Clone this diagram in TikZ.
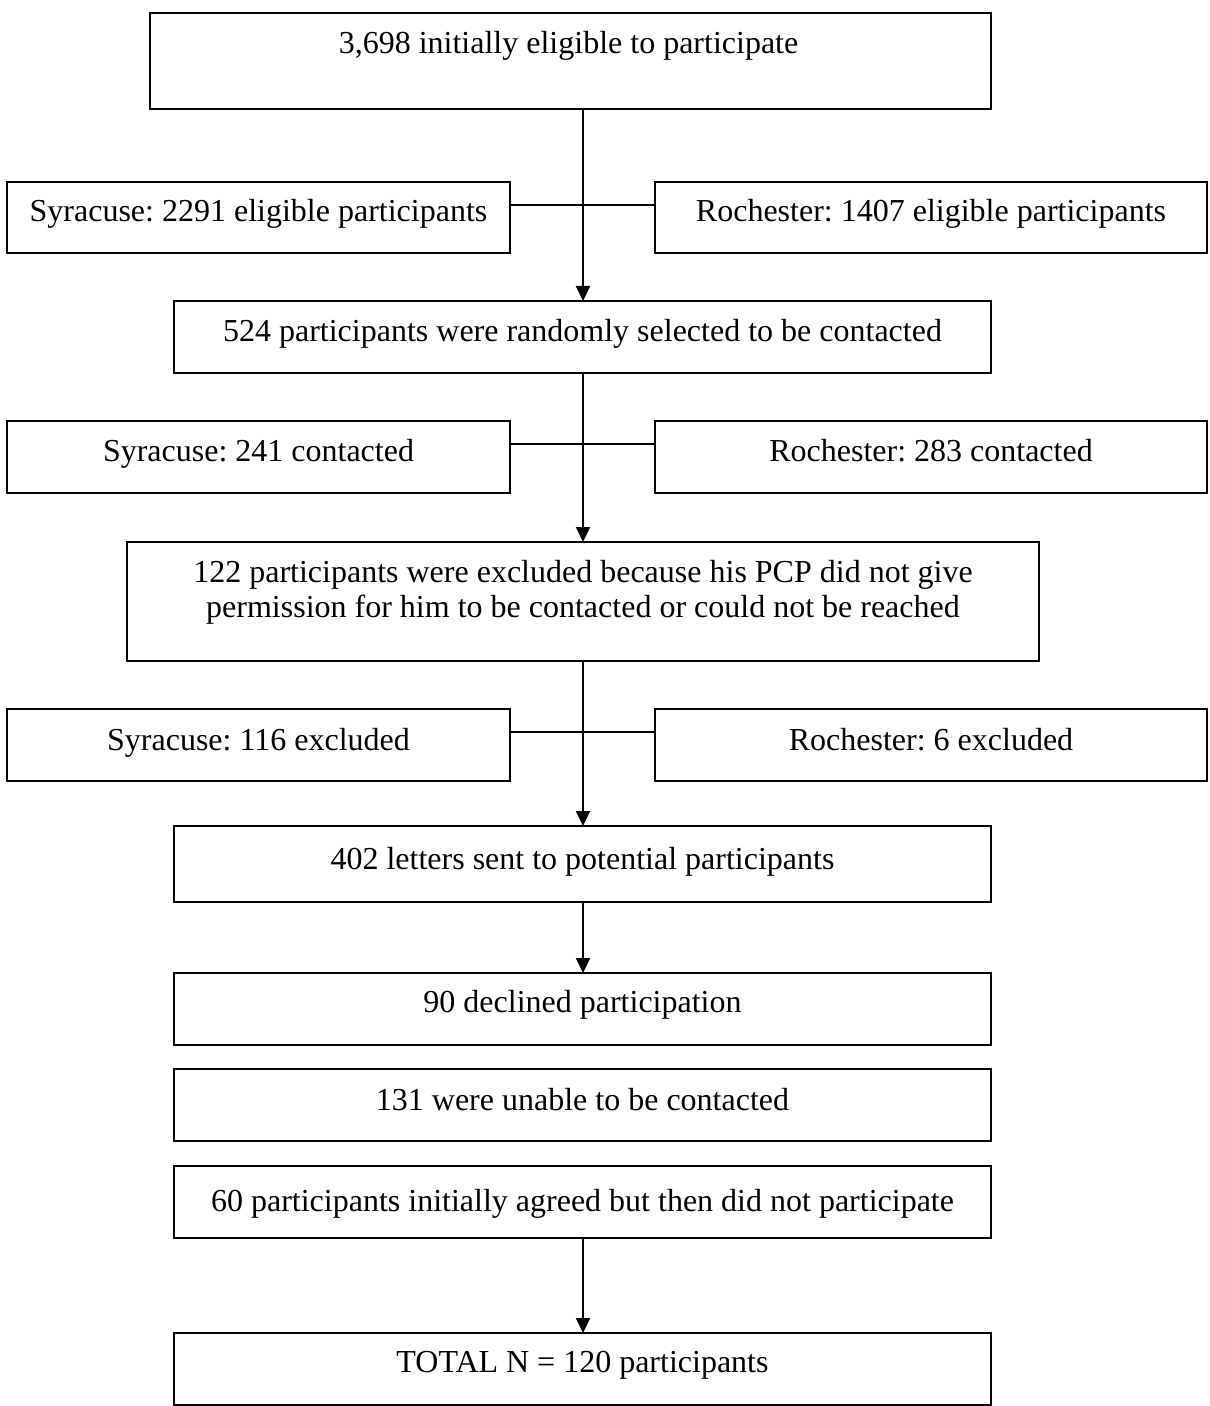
\documentclass[tikz,border=0pt]{standalone}
\usepackage{fontspec}
\setmainfont{Liberation Serif}
\usetikzlibrary{arrows.meta}
\frenchspacing
\newcommand\mkbox[5]{\node[box,minimum width={(#4-#2)*0.5pt},minimum height={(#5-#3)*0.5pt}] (#1) at ({(#2+#4)/2},{(#3+#5)/2}) {};}
\begin{document}
\begin{tikzpicture}[x=0.5pt,y=-0.5pt,
  box/.style={draw,line width=1pt,inner sep=0pt,outer sep=0pt,rectangle},
  lbl/.style={anchor=base,inner sep=0pt,font=\fontsize{16}{17.5}\selectfont\frenchspacing},
  conn/.style={line width=1pt},
  arr/.style={conn,-{Triangle[width=7pt,length=7.5pt]}}]
\useasboundingbox (0,0) rectangle (1209,1406);
% boxes
\mkbox{A}{150}{13}{991}{109}
\mkbox{SL1}{7}{182}{510}{253}
\mkbox{SR1}{655}{182}{1207}{253}
\mkbox{B}{174}{301}{991}{373}
\mkbox{SL2}{7}{421}{510}{493}
\mkbox{SR2}{655}{421}{1207}{493}
\mkbox{C}{127}{542}{1039}{661}
\mkbox{SL3}{7}{709}{510}{781}
\mkbox{SR3}{655}{709}{1207}{781}
\mkbox{D}{174}{826}{991}{902}
\mkbox{E}{174}{973}{991}{1045}
\mkbox{F}{174}{1069}{991}{1141}
\mkbox{G}{174}{1166}{991}{1238}
\mkbox{H}{174}{1333}{991}{1405}
% texts
\node[lbl] (tA) at (568.5,54) {3,698 initially eligible to participate};
\node[lbl] (tSL1) at (258.5,222) {Syracuse: 2291 eligible participants};
\node[lbl] (tSR1) at (931,222) {Rochester: 1407 eligible participants};
\node[lbl] (tB) at (582.5,342) {524 participants were randomly selected to be contacted};
\node[lbl] (tSL2) at (258.5,461) {Syracuse: 241 contacted};
\node[lbl] (tSR2) at (931,461) {Rochester: 283 contacted};
\node[lbl] (tC1) at (583,582) {122 participants were excluded because his PCP did not give};
\node[lbl] (tC2) at (583,617) {permission for him to be contacted or could not be reached};
\node[lbl] (tSL3) at (258.5,750) {Syracuse: 116 excluded};
\node[lbl] (tSR3) at (931,750) {Rochester: 6 excluded};
\node[lbl] (tD) at (582.5,869) {402 letters sent to potential participants};
\node[lbl] (tE) at (582.5,1012) {90 declined participation};
\node[lbl] (tF) at (582.5,1110) {131 were unable to be contacted};
\node[lbl] (tG) at (582.5,1211) {60 participants initially agreed but then did not participate};
\node[lbl] (tH) at (582.5,1372) {TOTAL N = 120 participants};
% connectors
\coordinate (h1) at (583,205);
\coordinate (h2) at (583,444);
\coordinate (h3) at (583,732);
\draw[arr] (A.south -| h1) -- (B.north -| h1);
\draw[conn] (SL1.east |- h1) -- (SR1.west |- h1);
\draw[arr] (B.south -| h2) -- (C.north -| h2);
\draw[conn] (SL2.east |- h2) -- (SR2.west |- h2);
\draw[arr] (C.south -| h3) -- (D.north -| h3);
\draw[conn] (SL3.east |- h3) -- (SR3.west |- h3);
\draw[arr] (D.south -| h1) -- (E.north -| h1);
\draw[arr] (G.south -| h1) -- (H.north -| h1);
\end{tikzpicture}
\end{document}
